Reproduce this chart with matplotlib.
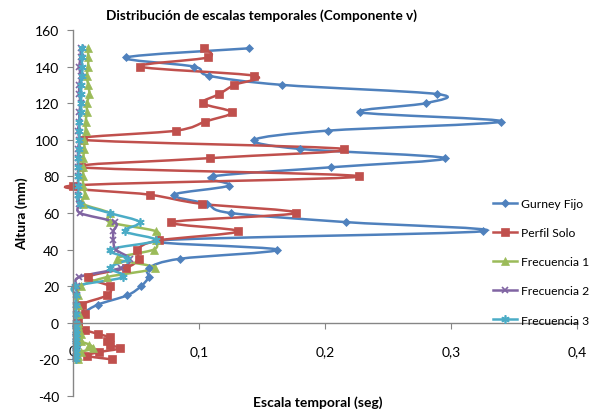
import matplotlib
matplotlib.use('Agg')
import matplotlib.pyplot as plt
from matplotlib.path import Path
from matplotlib.patches import PathPatch
from matplotlib.lines import Line2D

# altura de cada punto (mm)
alturas = [150, 145, 140, 135, 130, 125, 120, 115, 110, 105, 100, 95, 90, 85, 80, 75, 70, 65, 60, 55, 50,
           45, 40, 35, 30, 25, 20, 15, 10, 5, 0, -2, -4, -6, -8, -10, -12, -14, -16, -18, -20]

# escala temporal (seg) de cada serie
gurney_fijo = [0.140, 0.042, 0.096, 0.108, 0.166, 0.289, 0.280, 0.228, 0.340, 0.202, 0.144, 0.180, 0.295,
               0.205, 0.111, 0.124, 0.080, 0.106, 0.125, 0.217, 0.325, 0.068, 0.162, 0.085, 0.060, 0.060,
               0.054, 0.043, 0.020, 0.008, 0.003, 0.002, 0.003, 0.002, 0.003, 0.002, 0.003, 0.002, 0.003,
               0.002, 0.002]
perfil_solo = [0.104, 0.107, 0.053, 0.144, 0.128, 0.116, 0.103, 0.126, 0.105, 0.082, 0.008, 0.215, 0.109,
               0.006, 0.227, 0.000, 0.061, 0.102, 0.177, 0.078, 0.131, 0.068, 0.051, 0.052, 0.042, 0.012,
               0.029, 0.027, 0.007, 0.0095, 0.004, 0.004, 0.0095, 0.0196, 0.029, 0.027, 0.029, 0.037,
               0.021, 0.011, 0.031]
frecuencia_1 = [0.012, 0.012, 0.012, 0.011, 0.012, 0.013, 0.011, 0.011, 0.010, 0.010, 0.009, 0.009, 0.008,
                0.008, 0.008, 0.008, 0.0095, 0.008, 0.029, 0.029, 0.066, 0.066, 0.064, 0.035, 0.065, 0.027,
                0.006, 0.004, 0.004, 0.005, 0.004, 0.004, 0.005, 0.006, 0.005, 0.006, 0.013, 0.016, 0.006,
                0.004, 0.004]
frecuencia_2 = [0.006, 0.006, 0.005, 0.006, 0.005, 0.005, 0.006, 0.005, 0.005, 0.004, 0.005, 0.004, 0.004,
                0.004, 0.004, 0.004, 0.004, 0.005, 0.0056, 0.033, 0.032, 0.032, 0.034, 0.045, 0.038, 0.005,
                0.003, 0.003, 0.002, 0.002, 0.002, 0.002, 0.002, 0.003, 0.002, 0.002, 0.003, 0.002, 0.002,
                0.002, 0.002]
frecuencia_3 = [0.007, 0.007, 0.007, 0.007, 0.006, 0.006, 0.006, 0.006, 0.005, 0.005, 0.005, 0.005, 0.004,
                0.004, 0.004, 0.004, 0.004, 0.0056, 0.029, 0.053, 0.041, 0.066, 0.029, 0.043, 0.029, 0.040,
                0.0016, 0.002, 0.002, 0.002, 0.002, 0.002, 0.002, 0.002, 0.002, 0.002, 0.002, 0.002, 0.002,
                0.002, 0.002]

nombres = ['Gurney Fijo', 'Perfil Solo', 'Frecuencia 1', 'Frecuencia 2', 'Frecuencia 3']
x_ticks = [0, 0.1, 0.2, 0.3, 0.4]
x_labels = ['0', '0,1', '0,2', '0,3', '0,4']
y_ticks = [-40, -20, 0, 20, 40, 60, 80, 100, 120, 140, 160]


def smooth_path(xs, ys):
    # linea suavizada tipo Excel (Catmull-Rom como curvas Bezier)
    pts = list(zip(xs, ys))
    n = len(pts)
    verts = [pts[0]]
    codes = [Path.MOVETO]
    for i in range(n - 1):
        p0 = pts[max(i - 1, 0)]
        p1 = pts[i]
        p2 = pts[i + 1]
        p3 = pts[min(i + 2, n - 1)]
        c1 = (p1[0] + (p2[0] - p0[0]) / 6, p1[1] + (p2[1] - p0[1]) / 6)
        c2 = (p2[0] - (p3[0] - p1[0]) / 6, p2[1] - (p3[1] - p1[1]) / 6)
        verts += [c1, c2, p2]
        codes += [Path.CURVE4] * 3
    return Path(verts, codes)


plt.rcParams['font.family'] = ['Lato', 'DejaVu Sans']

fig = plt.figure(figsize=(5.93, 4.14), dpi=100)
ax = fig.add_axes([73/593, 17/414, 504/593, 366/414])

series = [gurney_fijo, perfil_solo, frecuencia_1, frecuencia_2, frecuencia_3]
colores = ['#4F81BD', '#C0504D', '#9BBB59', '#8064A2', '#4BACC6']
markers = ['D', 's', '^', 'x', (6, 2, 0)]
msizes = [4.5, 6, 6, 5, 6]

handles = []
for vals, nombre, col, mk, ms in zip(series, nombres, colores, markers, msizes):
    mew = 1.2 if mk in ('x', (6, 2, 0)) else 0.5
    ax.add_patch(PathPatch(smooth_path(vals, alturas), facecolor='none', edgecolor=col, linewidth=1.8,
                           clip_on=False))
    ax.plot(vals, alturas, linestyle='none', color=col, marker=mk, markersize=ms, markeredgewidth=mew,
            clip_on=False)
    handles.append(Line2D([], [], color=col, marker=mk, markersize=ms, markeredgewidth=mew, linewidth=1.8,
                          label=nombre))

ax.set_xlim(0, 0.4)
ax.set_ylim(-40, 160)
ax.set_yticks(y_ticks)
ax.set_yticklabels([str(v) for v in y_ticks], fontsize=10)
ax.set_xticks(x_ticks)
ax.set_xticklabels(x_labels, fontsize=10)

ax.spines['top'].set_visible(False)
ax.spines['right'].set_visible(False)
ax.spines['bottom'].set_position(('data', 0))
for s in ['left', 'bottom']:
    ax.spines[s].set_color('#868686')
    ax.spines[s].set_linewidth(1.0)
ax.tick_params(axis='y', direction='out', length=4, color='#868686', pad=6)
ax.tick_params(axis='x', direction='out', length=4, color='#868686', pad=12)

fig.text(261/593, 1 - 16/414, 'Distribución de escalas temporales (Componente v)', ha='center', va='center',
         fontsize=9.8, fontweight='bold')
fig.text(22/593, 1 - 214/414, 'Altura (mm)', rotation=90, ha='center', va='center', fontsize=10,
         fontweight='bold')
fig.text(318/593, 1 - 403/414, 'Escala temporal (seg)', ha='center', va='center', fontsize=10,
         fontweight='bold')

ax.legend(handles=handles, loc='upper left', bbox_to_anchor=(487/593, 1 - 193/414),
          bbox_transform=fig.transFigure, frameon=False, fontsize=8.7, numpoints=1, handlelength=2.0,
          labelspacing=1.5, handletextpad=0.3, borderpad=0)

plt.savefig('out.png', dpi=100)
